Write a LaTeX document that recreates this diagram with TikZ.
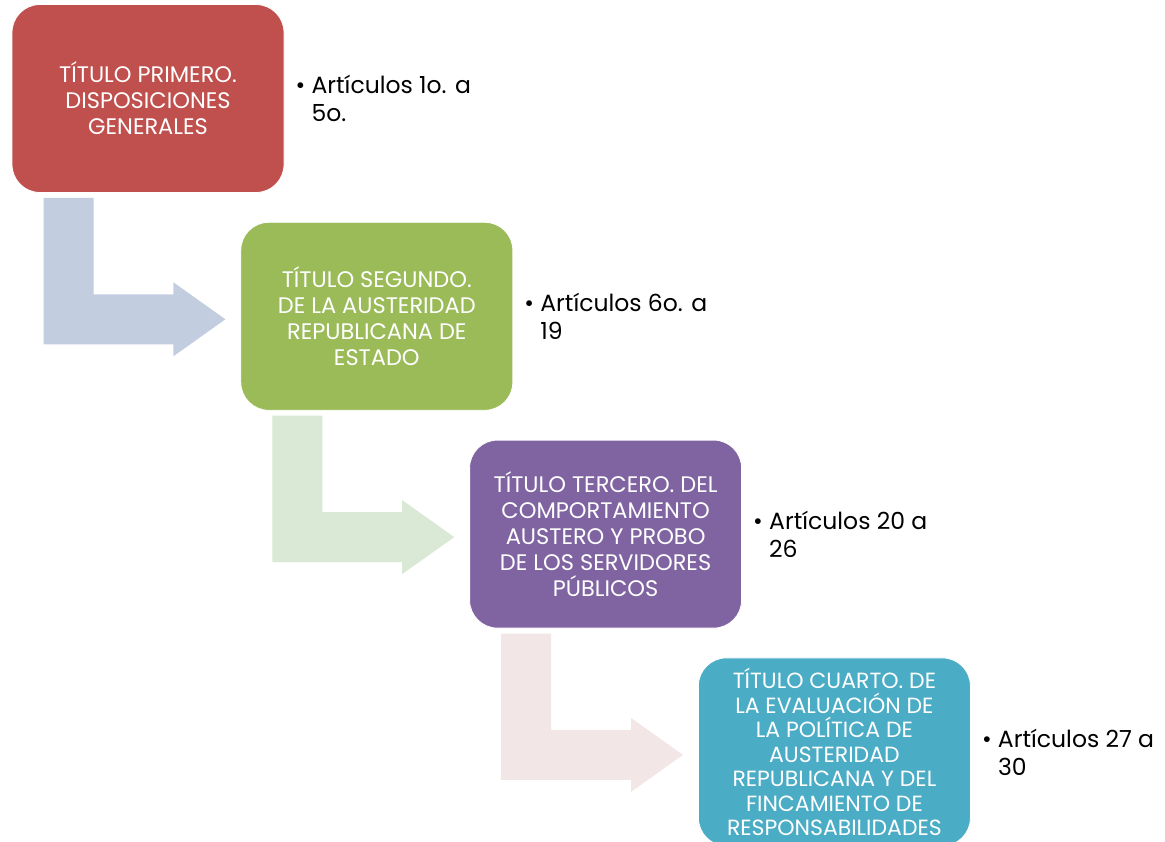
\documentclass[tikz,border=0pt]{standalone}
\usepackage{fontspec}
\setmainfont{Poppins}
\usetikzlibrary{positioning, calc}
\definecolor{rojo}{HTML}{C0504D}
\definecolor{verde}{HTML}{9BBB59}
\definecolor{morado}{HTML}{8064A2}
\definecolor{azul}{HTML}{4BACC6}
\definecolor{flechaazul}{HTML}{C3CDE0}
\definecolor{flechaverde}{HTML}{D9E9D5}
\definecolor{flecharosa}{HTML}{F2E6E7}
\begin{document}
\begin{tikzpicture}
    [x=1pt, y=-1pt,
    titulo/.style={rectangle, rounded corners=28pt, draw=white, line width=0.8pt,
    minimum width=272pt, minimum height=188pt, inner sep=2pt, align=center,
    text=white, font=\fontsize{22.5}{26}\selectfont},
    articulo/.style={inner sep=0pt, align=left, font=\fontsize{23.5}{28}\selectfont}]
    \useasboundingbox (0,0) rectangle (1165,842);
    \node [titulo, fill=rojo] (tit1) at (148,98.5) {TÍTULO PRIMERO.\\DISPOSICIONES\\GENERALES};
    \node [titulo, fill=verde, below right=29pt and -44pt of tit1] (tit2)
    {TÍTULO SEGUNDO.\\DE LA AUSTERIDAD\\REPUBLICANA DE\\ESTADO};
    \node [titulo, fill=morado, below right=29pt and -44pt of tit2] (tit3)
    {TÍTULO TERCERO. DEL\\COMPORTAMIENTO\\AUSTERO Y PROBO\\DE LOS SERVIDORES\\PÚBLICOS};
    \node [titulo, fill=azul, font=\fontsize{22}{24.5}\selectfont,
    below right=29pt and -44pt of tit3] (tit4)
    {TÍTULO CUARTO. DE\\LA EVALUACIÓN DE\\LA POLÍTICA DE\\AUSTERIDAD\\REPUBLICANA Y DEL\\FINCAMIENTO DE\\RESPONSABILIDADES};

    \node [articulo, right=11pt of tit1] (art1)
    {\makebox[16pt][l]{\textbullet}Artículos 1o. a\\\hspace*{16pt}5o.};
    \node [articulo, right=11pt of tit2] (art2)
    {\makebox[16pt][l]{\textbullet}Artículos 6o. a\\\hspace*{16pt}19};
    \node [articulo, right=11pt of tit3] (art3)
    {\makebox[16pt][l]{\textbullet}Artículos 20 a\\\hspace*{16pt}26};
    \node [articulo, right=11pt of tit4] (art4)
    {\makebox[16pt][l]{\textbullet}Artículos 27 a\\\hspace*{16pt}30};

    % flechas dobladas entre titulos
    \foreach \a/\b/\c in {tit1/tit2/flechaazul, tit2/tit3/flechaverde, tit3/tit4/flecharosa}
      \fill [\c] ($(\a.south west)+(32,5)$) |- ($(\b.west)+(-67,28)$)
        -- ($(\b.west)+(-67,40)$) -- ($(\b.west)+(-15,3)$) -- ($(\b.west)+(-67,-34)$)
        -- ($(\b.west)+(-67,-22)$) -| ($(\a.south west)+(82,5)$) -- cycle;
\end{tikzpicture}
\end{document}
